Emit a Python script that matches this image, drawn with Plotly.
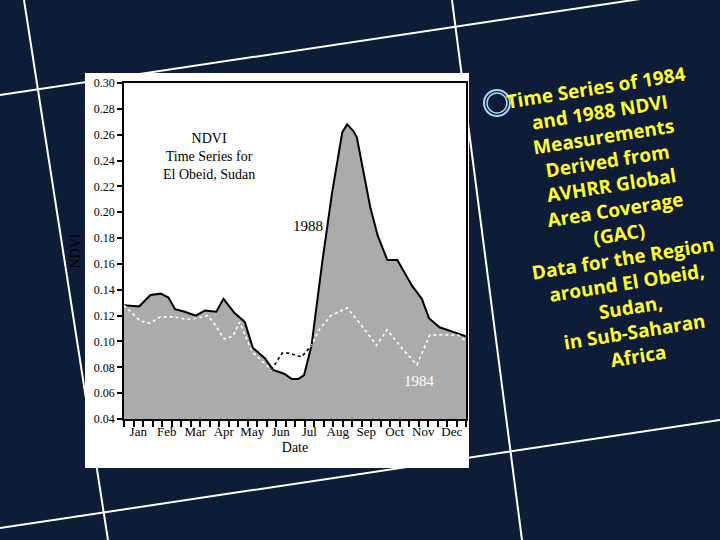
import plotly.graph_objects as go

# NDVI readings, El Obeid (x = months since 1 Jan)
months_1988 = [0.00, 0.53, 0.93, 1.29, 1.56, 1.79, 2.13, 2.52, 2.84, 3.24, 3.49, 3.88,
               4.14, 4.24, 4.52, 4.94, 5.23, 5.45, 5.62, 5.88, 6.12, 6.32, 6.58, 6.96,
               7.30, 7.66, 7.83, 8.04, 8.17, 8.36, 8.64, 8.90, 9.24, 9.59, 10.11, 10.45,
               10.70, 11.07, 12.00]
ndvi_1988 = [0.128, 0.127, 0.136, 0.137, 0.134, 0.125, 0.123, 0.120, 0.124, 0.123, 0.133, 0.122,
             0.117, 0.115, 0.095, 0.087, 0.078, 0.076, 0.075, 0.071, 0.071, 0.074, 0.097, 0.162,
             0.215, 0.262, 0.268, 0.263, 0.258, 0.236, 0.204, 0.182, 0.163, 0.163, 0.143, 0.133,
             0.118, 0.111, 0.104]

months_1984 = [0.00, 0.56, 0.90, 1.28, 1.75, 2.21, 2.57, 2.93, 3.13, 3.51, 3.82, 4.06,
               4.24, 4.50, 5.17, 5.55, 5.78, 6.23, 6.58, 6.84, 7.26, 7.83, 8.28, 8.86,
               9.23, 9.78, 10.28, 10.73, 11.20, 11.73, 12.00]
ndvi_1984 = [0.128, 0.116, 0.114, 0.119, 0.119, 0.117, 0.118, 0.120, 0.115, 0.102, 0.104, 0.115,
             0.105, 0.092, 0.078, 0.091, 0.091, 0.088, 0.097, 0.109, 0.120, 0.126, 0.114, 0.097,
             0.109, 0.094, 0.082, 0.105, 0.105, 0.105, 0.100]

# part of 1984 lying above the 1988 curve (drawn black on white)
above_start, above_end = 14, 19

month_labels = ["Jan", "Feb", "Mar", "Apr", "May", "Jun",
                "Jul", "Aug", "Sep", "Oct", "Nov", "Dec"]
month_centers = [i + 0.5 for i in range(12)]

side_text = ["Time Series of 1984", "and 1988 NDVI", "Measurements", "Derived from",
             "AVHRR Global", "Area Coverage", "(GAC)", "Data for the Region",
             "around El Obeid,", "Sudan,", "in Sub-Saharan", "Africa"]

# plot area in pixels
PL, PR, PT, PB = 124, 466, 83, 419


def px(x, y):
    """pixel position -> paper coords"""
    return (x - PL) / (PR - PL), (PB - y) / (PB - PT)


serif = "Liberation Serif"

fig = go.Figure()

fig.add_trace(go.Scatter(
    x=months_1988, y=ndvi_1988, mode="lines",
    line=dict(color="black", width=2),
    fill="tozeroy", fillcolor="#ababab",
    name="1988"
))
fig.add_trace(go.Scatter(
    x=months_1984, y=ndvi_1984, mode="lines",
    line=dict(color="white", width=1.6, dash="dot"),
    name="1984"
))
fig.add_trace(go.Scatter(
    x=months_1984[above_start:above_end], y=ndvi_1984[above_start:above_end], mode="lines",
    line=dict(color="black", width=1.6, dash="dot"),
    showlegend=False
))

# slide decoration: thin white lines and the white panel
shapes = []
for (x0, y0), (x1, y1) in [((0, 95), (720, -13)), ((0, 528), (720, 420)),
                           ((24, 0), (108, 540)), ((452, 0), (522, 540))]:
    a, b = px(x0, y0)
    c, d = px(x1, y1)
    shapes.append(dict(type="line", xref="paper", yref="paper", x0=a, y0=b, x1=c, y1=d,
                       line=dict(color="white", width=2), layer="below"))
a, b = px(85, 468)
c, d = px(469, 73)
shapes.append(dict(type="rect", xref="paper", yref="paper", x0=a, y0=b, x1=c, y1=d,
                   fillcolor="white", line=dict(width=0), layer="below"))
for r, w in [(13, 2), (10, 1.5)]:
    a, b = px(497 - r, 103 + r)
    c, d = px(497 + r, 103 - r)
    shapes.append(dict(type="circle", xref="paper", yref="paper", x0=a, y0=b, x1=c, y1=d,
                       line=dict(color="#a8d4f5", width=w)))

tx, ty = px(617, 222)
annotations = [
    dict(x=2.98, y=0.243, xref="x", yref="y", showarrow=False,
         text="NDVI<br>Time Series for<br>El Obeid, Sudan",
         font=dict(family=serif, size=14, color="black")),
    dict(x=6.45, y=0.189, xref="x", yref="y", showarrow=False, text="1988",
         font=dict(family=serif, size=15, color="black")),
    dict(x=10.38, y=0.0695, xref="x", yref="y", showarrow=False, text="1984",
         font=dict(family=serif, size=15, color="white")),
    dict(x=tx, y=ty, xref="paper", yref="paper", xanchor="center", yanchor="middle",
         showarrow=False, textangle=-9,
         text="<b>" + "<br>".join(side_text) + "</b>", align="center",
         font=dict(family="Comic Sans MS, Open Sans, sans-serif", size=19, color="#ffff33")),
]

fig.update_xaxes(
    range=[0, 12], tickvals=month_centers, ticktext=month_labels,
    ticks="outside", ticklen=0,
    minor=dict(tick0=0, dtick=1 / 3, ticks="outside", ticklen=6,
               tickwidth=1.5, tickcolor="black"),
    showline=True, linecolor="black", linewidth=1.5, mirror=True,
    showgrid=False, zeroline=False, automargin=True,
    tickfont=dict(family=serif, size=13, color="black"),
    title=dict(text="Date", font=dict(family=serif, size=14, color="black"), standoff=4),
)
fig.update_yaxes(
    range=[0.04, 0.30], tick0=0.04, dtick=0.02, tickformat=".2f",
    ticks="outside", ticklen=5, tickwidth=1.5, tickcolor="black",
    showline=True, linecolor="black", linewidth=1.5, mirror=True,
    showgrid=False, zeroline=False, automargin=True,
    tickfont=dict(family=serif, size=12, color="black"),
    title=dict(text="NDVI", font=dict(family=serif, size=14, color="black"), standoff=10),
)

fig.update_layout(
    width=720, height=540,
    margin=dict(l=PL, r=720 - PR, t=PT, b=540 - PB),
    paper_bgcolor="#0e1c38",
    plot_bgcolor="rgba(0,0,0,0)",
    showlegend=False,
    shapes=shapes,
    annotations=annotations,
)

fig.write_html("out.html", config={"displayModeBar": False},
               post_script="document.body.style.margin = '0';")
